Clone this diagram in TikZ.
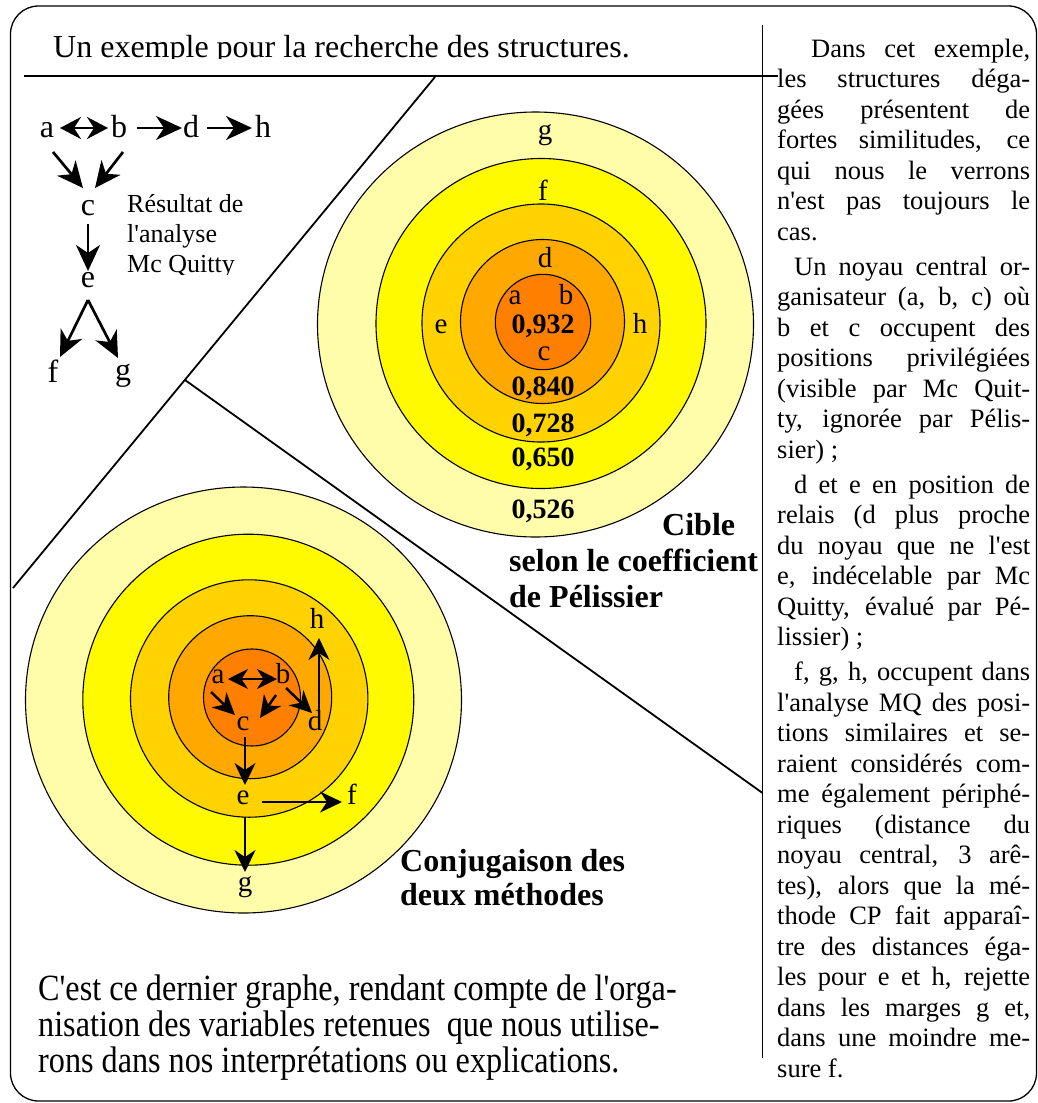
\documentclass[tikz,border=0pt]{standalone}
\usepackage{fontspec}
\setmainfont{Liberation Serif}
\newfontfamily\lib{Liberation Serif}
\usetikzlibrary{arrows.meta,calc}
\definecolor{ringA}{HTML}{FFFCAA}
\definecolor{ringB}{HTML}{FFFA00}
\definecolor{ringC}{HTML}{FFD200}
\definecolor{ringD}{HTML}{FFA800}
\definecolor{ringE}{HTML}{FF7F00}
\newcommand{\jl}[1]{\hbox to 253pt{#1}}
\newcommand{\nl}[1]{\hbox{#1}}
\begin{document}
\begin{tikzpicture}[x=1pt,y=-1pt,
  bigarr/.style={line width=2.7pt,-{Stealth[length=26pt,width=24pt,inset=8pt]}},
  bigdarr/.style={line width=2.7pt,{Stealth[length=21pt,width=22pt,inset=7pt]}-{Stealth[length=21pt,width=22pt,inset=7pt]}},
  arr/.style={line width=2.5pt,-{Stealth[length=22pt,width=21pt,inset=7pt]}},
  darr/.style={line width=2.5pt,{Stealth[length=20pt,width=20pt,inset=6.5pt]}-{Stealth[length=20pt,width=20pt,inset=6.5pt]}},
  ring/.style={draw=black,line width=1.1pt},
  gl/.style={inner sep=0pt,anchor=base,font=\lib\fontsize{32}{32}\selectfont},
  tl/.style={inner sep=0pt,anchor=base,font=\lib\fontsize{29}{29}\selectfont},
  num/.style={inner sep=0pt,anchor=base,font=\lib\bfseries\fontsize{28}{28}\selectfont},
  btitle/.style={inner sep=0pt,anchor=base west,font=\lib\bfseries\fontsize{32}{32}\selectfont},
  smalltxt/.style={inner sep=0pt,anchor=base west,font=\lib\fontsize{26}{26}\selectfont},
  bottxt/.style={inner sep=0pt,anchor=base west},
  sepline/.style={line width=1.8pt}]
\useasboundingbox (0,0) rectangle (1038,1103);
% frame
\draw[line width=1.3pt,rounded corners=28pt] (10.5,6) rectangle (1036.5,1101);
% separators
\coordinate (tl0) at (24,76);
\coordinate (tl1) at (778,76);
\coordinate (v0) at (762.5,25);
\coordinate (v1) at (762.5,1058);
\coordinate (d1a) at (435,77);
\coordinate (d1b) at (13,588);
\coordinate (d2a) at (185,380);
\coordinate (d2b) at (762.5,793);
\draw[sepline] (tl0) -- (tl1);
\draw[sepline] (v0) -- (v1);
\draw[sepline] (d1a) -- (d1b);
\draw[sepline] (d2a) -- (d2b);
% title (clipped at bottom)
\begin{scope}
\clip (20,10) rectangle (760,58.5);
\node[inner sep=0pt,anchor=base west,font=\lib\fontsize{32}{32}\selectfont] (title) at (53,57) {Un exemple pour la recherche des structures.};
\end{scope}
% left graph (Mc Quitty)
\node[gl] (la) at (47,137) {a};
\node[gl] (lb) at (119,137) {b};
\node[gl] (ld) at (191,137) {d};
\node[gl] (lh) at (263,137) {h};
\node[gl] (lc) at (88,215) {c};
\node[gl] (le) at (88,287) {e};
\node[gl] (lf) at (53,382) {f};
\node[gl] (lg) at (123,380) {g};
\draw[bigdarr] ($(la.base)+(13,-9)$) -- ($(lb.base)+(-11,-9)$);
\draw[bigarr] ($(lb.base)+(18,-9)$) -- ($(ld.base)+(-9,-9)$);
\draw[bigarr] ($(ld.base)+(16,-9)$) -- ($(lh.base)+(-11,-9)$);
\draw[bigarr] ($(la.base)+(6,15)$) -- ($(lc.base)+(-5,-27)$);
\draw[bigarr] ($(lb.base)+(4,15)$) -- ($(lc.base)+(7,-27)$);
\draw[bigarr] ($(lc.base)+(0,9)$) -- ($(le.base)+(0,-16)$);
\draw[bigarr] ($(le.base)+(0,13)$) -- ($(lf.base)+(7,-25)$);
\draw[bigarr] ($(le.base)+(0,13)$) -- ($(lg.base)+(-5,-22)$);
\begin{scope}
\clip (120,180) rectangle (300,274);
\node[smalltxt] (res1) at (127,212) {Résultat de};
\node[smalltxt] (res2) at (127,242) {l'analyse};
\node[smalltxt] (res3) at (127,272) {Mc Quitty};
\end{scope}
% Pelissier target
\draw[ring,fill=ringA] (535.5,324.5) ellipse [x radius=218, y radius=212.5];
\draw[ring,fill=ringB] (541,323.5) circle [radius=165];
\draw[ring,fill=ringC] (541,323) circle [radius=119];
\draw[ring,fill=ringD] (542.5,321.5) circle [radius=82];
\draw[ring,fill=ringE] (543,322) circle [radius=47.7];
\node[tl] (pg) at (545,139) {g};
\node[tl] (pf) at (543,200) {f};
\node[tl] (pd) at (545,267) {d};
\node[tl] (pa) at (515,304) {a};
\node[tl] (pb) at (566,304) {b};
\node[num] (n1) at (543,333) {0,932};
\node[tl] (pc) at (544,360) {c};
\node[tl] (pe) at (441,333) {e};
\node[tl] (ph) at (640,333) {h};
\node[num] (n2) at (543,395) {0,840};
\node[num] (n3) at (543,432) {0,728};
\node[num] (n4) at (543,466) {0,650};
\node[num] (n5) at (543,518) {0,526};
\node[btitle] (cib1) at (662,535) {Cible};
\node[btitle] (cib2) at (509,571) {selon le coefficient};
\node[btitle] (cib3) at (509,607) {de Pélissier};
% Conjugaison target
\draw[ring,fill=ringA] (243.5,700) ellipse [x radius=218, y radius=213];
\draw[ring,fill=ringB] (248.3,699.7) circle [radius=165.5];
\draw[ring,fill=ringC] (249.2,698.5) circle [radius=118.7];
\draw[ring,fill=ringD] (250.2,697.2) circle [radius=81.5];
\draw[ring,fill=ringE] (252,697.5) circle [radius=48.5];
\node[tl] (ca) at (218,683) {a};
\node[tl] (cb) at (283,683) {b};
\node[tl] (cc) at (243,730) {c};
\node[tl] (cd) at (315,730) {d};
\node[tl] (ch) at (317,628) {h};
\node[tl] (ce) at (243,804) {e};
\node[tl] (cf) at (352,804) {f};
\node[tl] (cg) at (245,891) {g};
\draw[darr] ($(ca.base)+(10,-4)$) -- ($(cb.base)+(-6,-4)$);
\draw[arr] ($(ca.base)+(-7,9)$) -- ($(cc.base)+(-8,-15)$);
\draw[arr] ($(cb.base)+(-7,12)$) -- ($(cc.base)+(17,-12)$);
\draw[arr] ($(cb.base)+(3,5)$) -- ($(cd.base)+(-3,-17)$);
\draw[arr] ($(cd.base)+(4,-17)$) -- ($(ch.base)+(2,10)$);
\draw[arr] ($(cc.base)+(2,7)$) -- ($(ce.base)+(2,-19)$);
\draw[arr] ($(ce.base)+(19,-2)$) -- ($(cf.base)+(-10,-2)$);
\draw[arr] ($(ce.base)+(2,13)$) -- ($(cg.base)+(0,-19)$);
\node[btitle] (conj1) at (400,871) {Conjugaison des};
\node[btitle] (conj2) at (400,905) {deux méthodes};
% bottom text
\node[bottxt] (bt1) at (38,1000) {\scalebox{0.87}[1]{\lib\fontsize{37}{37}\selectfont C'est ce dernier graphe, rendant compte de l'orga-}};
\node[bottxt] (bt2) at (38,1036) {\scalebox{0.87}[1]{\lib\fontsize{37}{37}\selectfont nisation des variables retenues\ \ que nous utilise-}};
\node[bottxt] (bt3) at (38,1072) {\scalebox{0.87}[1]{\lib\fontsize{37}{37}\selectfont rons dans nos interprétations ou explications.}};
% right column
\node[inner sep=0pt,anchor=base west] (col) at (777,57) {\parbox[t]{253pt}{\lib\fontsize{26.5}{30.5}\selectfont\baselineskip=30.5pt
\jl{\hspace*{34pt}Dans cet exemple,}
\jl{les structures déga-}
\jl{gées présentent de}
\jl{fortes similitudes, ce}
\jl{qui nous le verrons}
\jl{n'est pas toujours le}
\nl{cas.}
\vspace{4.5pt}
\jl{\hspace*{17pt}Un noyau central or-}
\jl{ganisateur (a, b, c) où}
\jl{b et c occupent des}
\jl{positions privilégiées}
\jl{(visible par Mc Quit-}
\jl{ty, ignorée par Pélis-}
\nl{sier) ;}
\vspace{4.5pt}
\jl{\hspace*{17pt}d et e en position de}
\jl{relais (d plus proche}
\jl{du noyau que ne l'est}
\jl{e, indécelable par Mc}
\jl{Quitty, évalué par Pé-}
\nl{lissier) ;}
\vspace{4.5pt}
\jl{\hspace*{17pt}f, g, h, occupent dans}
\jl{l'analyse MQ des posi-}
\jl{tions similaires et se-}
\jl{raient considérés com-}
\jl{me également périphé-}
\jl{riques (distance du}
\jl{noyau central, 3 arê-}
\jl{tes), alors que la mé-}
\jl{thode CP fait apparaî-}
\jl{tre des distances éga-}
\jl{les pour e et h, rejette}
\jl{dans les marges g et,}
\jl{dans une moindre me-}
\nl{sure f.}}};
\end{tikzpicture}
\end{document}
